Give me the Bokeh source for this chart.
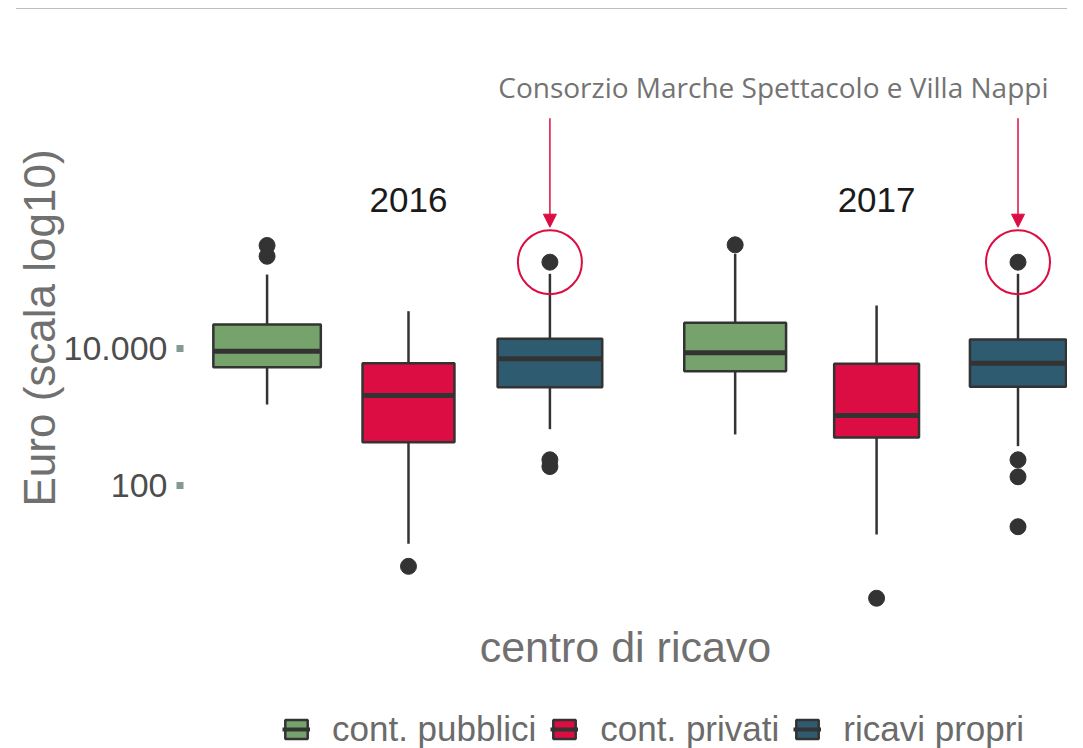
from bokeh.plotting import figure
from bokeh.models import (Range1d, FixedTicker, ColumnDataSource, Legend, LegendItem,
                          Label, Arrow, NormalHead, Div)
from bokeh.layouts import column
from bokeh.embed import file_html
from bokeh.resources import INLINE

# ---------------- data ----------------
years = ["2016", "2017"]
categories = ["cont. pubblici", "cont. privati", "ricavi propri"]
colors = ["#75a36b", "#dc0d42", "#2e5b70"]

# order of boxes: 2016 (pubblici, privati, propri), 2017 (pubblici, privati, propri)
box_year = ["2016", "2016", "2016", "2017", "2017", "2017"]
box_cat = categories * 2
whisker_low = [1520, 14.1, 664, 556, 19.3, 375]
q1 = [5330, 429, 2720, 4660, 502, 2760]
median = [9140, 2060, 7070, 8650, 1052, 6100]
q3 = [22400, 6100, 13900, 23700, 5980, 13500]
whisker_high = [120000, 35000, 123000, 241000, 42400, 123000]
rel_width = [0.76, 0.65, 0.74, 0.72, 0.60, 0.68]   # varwidth boxes

outlier_year = ["2016", "2016", "2016", "2016", "2016", "2016",
                "2017", "2017", "2017", "2017", "2017", "2017"]
outlier_cat = ["cont. pubblici", "cont. pubblici", "cont. privati",
               "ricavi propri", "ricavi propri", "ricavi propri",
               "cont. pubblici", "cont. privati",
               "ricavi propri", "ricavi propri", "ricavi propri", "ricavi propri"]
outlier_value = [319000, 222000, 6.6, 182000, 237, 189,
                 326000, 2.26, 182000, 237, 134, 25]

highlight_value = 182000   # Consorzio Marche Spettacolo e Villa Nappi (ricavi propri)
annotation_text = "Consorzio Marche Spettacolo e Villa Nappi"

# ---------------- layout helpers ----------------
GROUP_STEP = 3.31
def xpos(year, cat):
    return years.index(year) * GROUP_STEP + categories.index(cat) + 1

RED = "#dc0d42"
DARK = "#333333"
W = 1067
LEFT = 183
NAN = float("nan")

p = figure(width=W, height=668, y_axis_type="log",
           x_range=Range1d(0.409, 6.66), y_range=Range1d(10**0.102, 10**8.496),
           output_backend="svg", toolbar_location=None,
           min_border_left=LEFT, min_border_right=0, min_border_top=31, min_border_bottom=62)
p.outline_line_color = None
p.xgrid.visible = False
p.ygrid.visible = False

for ci, cat in enumerate(categories):
    idx = [i for i in range(len(box_cat)) if box_cat[i] == cat]
    xs = [xpos(box_year[i], cat) for i in idx]
    ws = [rel_width[i] for i in idx]
    src = ColumnDataSource(dict(
        x=xs, w=ws,
        x0=[x - w / 2 for x, w in zip(xs, ws)],
        x1=[x + w / 2 for x, w in zip(xs, ws)],
        lo=[whisker_low[i] for i in idx], q1=[q1[i] for i in idx],
        med=[median[i] for i in idx], q3=[q3[i] for i in idx],
        hi=[whisker_high[i] for i in idx]))
    p.segment(x0="x", y0="q3", x1="x", y1="hi", source=src, line_color=DARK, line_width=2.5)
    p.segment(x0="x", y0="lo", x1="x", y1="q1", source=src, line_color=DARK, line_width=2.5)
    p.vbar(x="x", width="w", bottom="q1", top="q3", source=src,
           fill_color=colors[ci], line_color=DARK, line_width=2.5)
    p.segment(x0="x0", y0="med", x1="x1", y1="med", source=src,
              line_color=DARK, line_width=5)

# outliers
p.scatter(x=[xpos(y, c) for y, c in zip(outlier_year, outlier_cat)], y=outlier_value,
          size=16, color=DARK, marker="circle")

# highlight circles and arrows
hx = [xpos(y, "ricavi propri") for y in years]
p.scatter(x=hx, y=[highlight_value] * 2, size=64, fill_color=None,
          line_color=RED, line_width=2, marker="circle")
for x in hx:
    p.add_layout(Arrow(end=NormalHead(size=13, fill_color=RED, line_color=RED, line_width=1),
                       x_start=x, y_start=2.3e7, x_end=x, y_end=5.9e5,
                       line_color=RED, line_width=1.5))
p.add_layout(Label(x=4.58, y=6.6e7, text=annotation_text, text_align="center",
                   text_baseline="middle", text_font="Open Sans", text_font_size="28px",
                   text_color="#737373"))

# year labels
for y in years:
    p.add_layout(Label(x=xpos(y, "cont. privati"), y=1.45e6, text=y, text_align="center",
                       text_baseline="middle", text_font="Liberation Sans",
                       text_font_size="35px", text_color="#1a1a1a"))

# axes
p.yaxis.ticker = FixedTicker(ticks=[100, 10000], minor_ticks=[])
p.yaxis.major_label_overrides = {100: "100", 10000: "10.000"}
p.yaxis.axis_line_color = None
p.yaxis.major_tick_in = 0
p.yaxis.major_tick_out = 7
p.yaxis.major_tick_line_width = 7
p.yaxis.major_tick_line_color = "#849895"
p.yaxis.minor_tick_line_color = None
p.yaxis.major_label_standoff = 9
p.yaxis.major_label_text_font = "Liberation Sans"
p.yaxis.major_label_text_font_size = "34px"
p.yaxis.major_label_text_color = "#4d4d4d"
p.yaxis.axis_label = "Euro (scala log10)"
p.yaxis.axis_label_text_font = "Liberation Sans"
p.yaxis.axis_label_text_font_size = "44px"
p.yaxis.axis_label_text_font_style = "normal"
p.yaxis.axis_label_text_color = "#707070"
p.yaxis.axis_label_standoff = -3

p.xaxis.ticker = FixedTicker(ticks=[], minor_ticks=[])
p.xaxis.axis_line_color = None
p.xaxis.major_tick_line_color = None
p.xaxis.minor_tick_line_color = None
p.xaxis.major_label_text_font_size = "0px"
p.xaxis.axis_label = "centro di ricavo"
p.xaxis.axis_label_text_font = "Liberation Sans"
p.xaxis.axis_label_text_font_size = "43px"
p.xaxis.axis_label_text_font_style = "normal"
p.xaxis.axis_label_text_color = "#707070"
p.xaxis.axis_label_standoff = 7

# ---------------- legend (separate strip below the plot) ----------------
lg = figure(width=W, height=72, x_range=Range1d(0, 1), y_range=Range1d(0, 1),
            output_backend="svg", toolbar_location=None,
            x_axis_location=None, y_axis_location=None,
            min_border_left=LEFT, min_border_right=0, min_border_top=0, min_border_bottom=0)
lg.outline_line_color = None
lg.xgrid.visible = False
lg.ygrid.visible = False
items = []
for ci, cat in enumerate(categories):
    # legend keys only (no visible data)
    b = lg.vbar(x=[NAN], width=0.1, top=[NAN], bottom=[NAN], fill_color=colors[ci],
                line_color=DARK, line_width=2.5)
    m = lg.segment(x0=[NAN], y0=[NAN], x1=[NAN], y1=[NAN], line_color=DARK, line_width=4)
    items.append(LegendItem(label=cat, renderers=[b, m]))
legend = Legend(items=items, orientation="horizontal", location=(99, 0),
                label_text_font="Liberation Sans", label_text_font_size="35px",
                label_text_color="#6b6b6b", glyph_width=28, glyph_height=24,
                label_standoff=22, spacing=14, padding=0, margin=0,
                border_line_color=None, background_fill_alpha=0)
lg.add_layout(legend)

top_rule = Div(width=W - 16, height=1, margin=(8, 0, 0, 16),
               styles={"background-color": "#bdbdbd"})

layout = column(top_rule, p, lg, spacing=0)
open("out.html", "w").write(file_html(layout, INLINE))
